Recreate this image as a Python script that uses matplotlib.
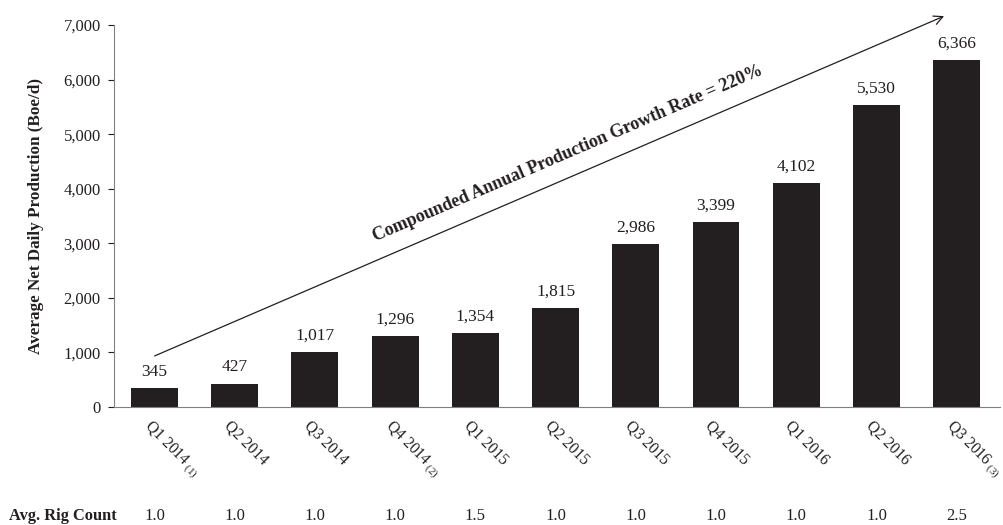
import matplotlib
matplotlib.use("Agg")
import matplotlib.pyplot as plt
from matplotlib.ticker import FuncFormatter

plt.rcParams['font.family'] = ['Liberation Serif', 'DejaVu Serif']
plt.rcParams['mathtext.fontset'] = 'custom'
plt.rcParams['mathtext.rm'] = 'Liberation Serif'

quarters = ["Q1 2014", "Q2 2014", "Q3 2014", "Q4 2014", "Q1 2015", "Q2 2015",
            "Q3 2015", "Q4 2015", "Q1 2016", "Q2 2016", "Q3 2016"]
footnotes = ["(1)", "", "", "(2)", "", "", "", "", "", "", "(3)"]
production = [345, 427, 1017, 1296, 1354, 1815, 2986, 3399, 4102, 5530, 6366]
rig_count = [1.0, 1.0, 1.0, 1.0, 1.5, 1.0, 1.0, 1.0, 1.0, 1.0, 2.5]
cagr_label = "Compounded Annual Production Growth Rate = 220%"
arrow_start = (-0.03, 916)
arrow_end = (9.875, 7183)

dark = "#231f20"
fig = plt.figure(figsize=(10.04, 5.25), dpi=100)
ax = fig.add_axes([114 / 1004, 118 / 525, (1000 - 114) / 1004, (407 - 25) / 525])

x = list(range(len(quarters)))
ax.bar(x, production, width=0.585, color=dark)
for xi, v in zip(x, production):
    ax.annotate(f"{v:,}", xy=(xi, v), xytext=(0, 6), textcoords='offset points',
                ha='center', va='bottom', fontsize=12.5, color=dark)

ax.set_xlim(-0.505, 10.54)
ax.set_ylim(0, 7000)
ax.set_yticks(range(0, 7001, 1000))
ax.yaxis.set_major_formatter(FuncFormatter(lambda v, p: f"{int(v):,}"))
ax.tick_params(axis='y', labelsize=12, colors=dark, length=4.5, width=0.8, pad=5)
ax.set_xticks(x)
ax.set_xticklabels([])
ax.tick_params(axis='x', length=0)
for s in ['top', 'right']:
    ax.spines[s].set_visible(False)
for s in ['left', 'bottom']:
    ax.spines[s].set_color('#808080')
    ax.spines[s].set_linewidth(0.8)

ax.set_ylabel("Average Net Daily Production (Boe/d)", fontsize=12.3,
              fontweight='bold', color=dark, labelpad=14)

# rotated x labels
for xi, q, fn in zip(x, quarters, footnotes):
    lab = q + (r"$\,_{\mathregular{" + fn + "}}$" if fn else "")
    ax.annotate(lab, xy=(xi, 0), xycoords=('data', 'axes fraction'),
                xytext=(-6, -12), textcoords='offset points',
                rotation=-45, rotation_mode='anchor', ha='left', va='center',
                fontsize=11.3, color=dark)

# rig count row
fig.text(117 / 1004, 1 - 516 / 525, "Avg. Rig Count", ha='right', va='center',
         fontsize=11.8, fontweight='bold', color=dark)
for xi, r in zip(x, rig_count):
    ax.annotate(f"{r:.1f}", xy=(xi, 0), xycoords=('data', 'axes fraction'),
                xytext=(0, 1 - 516 / 525), textcoords=('offset points', 'figure fraction'),
                ha='center', va='center', fontsize=12, color=dark)

# growth arrow
ax.annotate("", xy=arrow_end, xytext=arrow_start,
            arrowprops=dict(arrowstyle='->', color=dark, lw=0.9, mutation_scale=16),
            annotation_clip=False)
ax.text(5.15, 4636, cagr_label,
        rotation=23.3, rotation_mode='anchor', ha='center', va='center',
        fontsize=13, fontweight='bold', color=dark)

fig.savefig("out.png", dpi=100)
